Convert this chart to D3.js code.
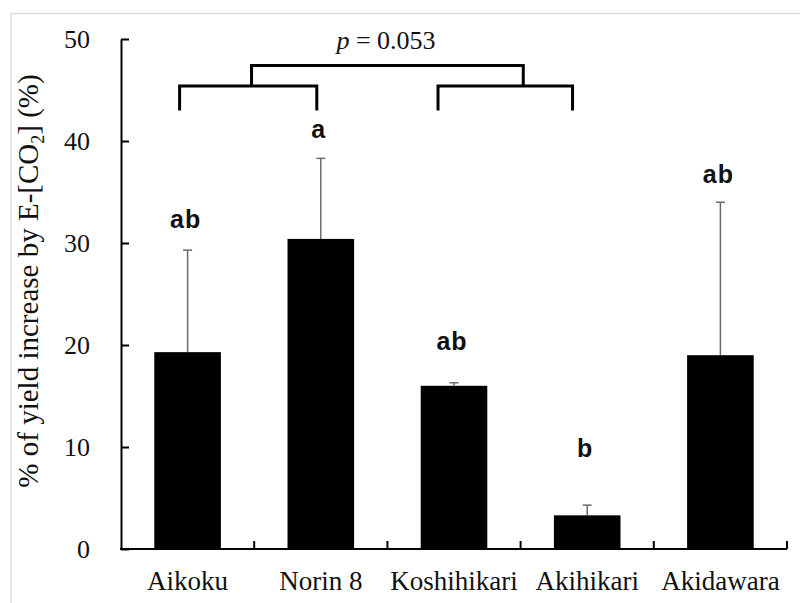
<!DOCTYPE html>
<html>
<head>
<meta charset="utf-8">
<script src="https://cdn.jsdelivr.net/npm/d3@7"></script>
<style>
  html, body { margin: 0; padding: 0; background: #fff; }
  svg { display: block; }
  .serif { font-family: "Liberation Serif", "Times New Roman", Times, "DejaVu Serif", serif; }
  .sans { font-family: "Liberation Sans", Arial, Helvetica, sans-serif; }
</style>
</head>
<body>
<svg id="chart" width="800" height="603"></svg>
<script>
// Cultivars and yield response to elevated CO2 (% increase)
const cultivars = ["Aikoku", "Norin 8", "Koshihikari", "Akihikari", "Akidawara"];
const yieldIncrease = [19.3, 30.4, 16.0, 3.3, 19.0];
const errorUpper = [29.3, 38.3, 16.3, 4.3, 34.0];
const groupLetters = ["ab", "a", "ab", "b", "ab"];
const letterHeights = [31.5, 40.3, 19.5, 9.0, 35.9];
const yTicks = [0, 10, 20, 30, 40, 50];
const pLabel = "0.053";

(function draw() {
  const svg = d3.select("#chart");
  const W = 800, H = 603;

  // light frame lines
  svg.append("line").attr("x1", 11).attr("x2", W).attr("y1", 13.5).attr("y2", 13.5)
    .attr("stroke", "#dcdcdc").attr("stroke-width", 1.5);
  svg.append("line").attr("x1", 11).attr("x2", 11).attr("y1", 13.5).attr("y2", H)
    .attr("stroke", "#dcdcdc").attr("stroke-width", 1.5);

  const plotLeft = 121, plotRight = 787, plotTop = 39, plotBottom = 549;

  const x = d3.scaleBand().domain(cultivars).range([plotLeft, plotRight]).padding(0);
  const y = d3.scaleLinear().domain([0, 50]).range([plotBottom, plotTop]);
  const barW = x.bandwidth() * 0.5;
  const cx = d => x(d) + x.bandwidth() / 2;
  // fractional category position -> pixel (0 = first bar centre)
  const pos = i => x(cultivars[0]) + x.bandwidth() / 2 + i * x.step();

  // error bars (upper only)
  const eg = svg.append("g");
  cultivars.forEach((c, i) => {
    eg.append("line").attr("x1", cx(c)).attr("x2", cx(c))
      .attr("y1", y(yieldIncrease[i])).attr("y2", y(errorUpper[i]))
      .attr("stroke", "#6a6a6a").attr("stroke-width", 1.5);
    eg.append("line").attr("x1", cx(c) - 4.5).attr("x2", cx(c) + 4.5)
      .attr("y1", y(errorUpper[i])).attr("y2", y(errorUpper[i]))
      .attr("stroke", "#6a6a6a").attr("stroke-width", 1.5);
  });

  // bars
  svg.append("g").selectAll("rect").data(cultivars).join("rect")
    .attr("x", d => cx(d) - barW / 2)
    .attr("width", barW)
    .attr("y", (d, i) => y(yieldIncrease[i]))
    .attr("height", (d, i) => y(0) - y(yieldIncrease[i]))
    .attr("fill", "#000");

  // y axis
  const yAxis = d3.axisLeft(y).tickValues(yTicks).tickSize(-8).tickPadding(31).tickSizeOuter(0);
  const yg = svg.append("g").attr("transform", `translate(${plotLeft},0)`).call(yAxis);
  yg.attr("font-family", null).attr("font-size", null);
  yg.select(".domain").attr("stroke", "#000").attr("stroke-width", 2);
  yg.selectAll(".tick line").attr("stroke", "#000").attr("stroke-width", 2);
  yg.selectAll(".tick text").attr("class", "serif").style("font-size", "26px").attr("fill", "#111");

  // x axis with category separators
  const xg = svg.append("g").attr("transform", `translate(0,${plotBottom})`);
  xg.append("line").attr("x1", plotLeft - 1).attr("x2", plotRight).attr("y1", 0).attr("y2", 0)
    .attr("stroke", "#000").attr("stroke-width", 2);
  const sepPts = cultivars.slice(1).map(c => x(c)).concat([plotRight]);
  xg.selectAll("line.sep").data(sepPts).join("line").attr("class", "sep")
    .attr("x1", d => d).attr("x2", d => d).attr("y1", 0).attr("y2", -8)
    .attr("stroke", "#000").attr("stroke-width", 2);
  xg.selectAll("text").data(cultivars).join("text")
    .attr("class", "serif")
    .attr("x", d => cx(d)).attr("y", 41)
    .attr("text-anchor", "middle")
    .style("font-size", "27px").attr("fill", "#111")
    .text(d => d);

  // significance letters
  svg.append("g").selectAll("text").data(cultivars).join("text")
    .attr("class", "sans")
    .attr("x", d => cx(d) - 2).attr("y", (d, i) => y(letterHeights[i]))
    .attr("text-anchor", "middle")
    .style("font-weight", "bold").style("font-size", "25px")
    .attr("letter-spacing", 1)
    .attr("fill", "#111")
    .text((d, i) => groupLetters[i]);

  // comparison brackets
  const bg = svg.append("g").attr("fill", "none").attr("stroke", "#000").attr("stroke-width", 3);
  const bracket = (a, b, yTop, yLeg) => {
    bg.append("path").attr("d",
      `M${pos(a)},${y(yLeg)} V${y(yTop)} H${pos(b)} V${y(yLeg)}`);
  };
  bracket(-0.06, 0.97, 45.4, 43.0);
  bracket(1.88, 2.89, 45.4, 43.0);
  bracket(0.48, 2.52, 47.4, 45.4);

  const pt = svg.append("text").attr("class", "serif").attr("x", 386).attr("y", 49)
    .attr("text-anchor", "middle")
    .style("font-size", "26px").attr("fill", "#111");
  pt.append("tspan").style("font-style", "italic").text("p");
  pt.append("tspan").text(" = " + pLabel);

  // y axis title
  const yt = svg.append("text").attr("class", "serif")
    .attr("transform", "translate(38,281) rotate(-90)")
    .attr("text-anchor", "middle")
    .style("font-size", "29px").attr("fill", "#111");
  yt.append("tspan").text("% of yield increase by E-[CO");
  yt.append("tspan").style("font-size", "18px").attr("dy", 6).text("2");
  yt.append("tspan").attr("dy", -6).text("] (%)");
})();
</script>
</body>
</html>
